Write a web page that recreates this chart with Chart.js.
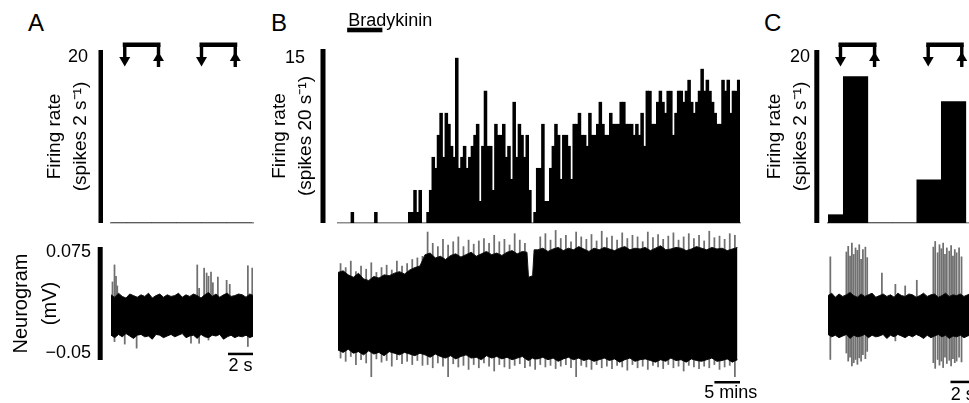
<!DOCTYPE html>
<html>
<head>
<meta charset="utf-8">
<script src="https://cdn.jsdelivr.net/npm/chart.js@4.4.1/dist/chart.umd.min.js"></script>
<style>
html, body { margin: 0; padding: 0; background: #fff; overflow: hidden; }
#fig { position: relative; width: 969px; height: 403px; overflow: hidden; font-family: "Liberation Sans", Arial, sans-serif; }
canvas { position: absolute; }
.panel { position: absolute; font-size: 24px; line-height: 24px; color: #000; }
</style>
</head>
<body>
<div id="fig">
  <div class="panel" style="left:28px;top:11px">A</div>
  <div class="panel" style="left:271px;top:11px">B</div>
  <div class="panel" style="left:764px;top:11px">C</div>
  <canvas id="aRate" width="260" height="230" style="left:0;top:0"></canvas>
  <canvas id="aNeuro" width="260" height="173" style="left:0;top:230px"></canvas>
  <canvas id="bRate" width="490" height="230" style="left:262px;top:0"></canvas>
  <canvas id="bNeuro" width="500" height="178" style="left:262px;top:225px"></canvas>
  <canvas id="cRate" width="230" height="230" style="left:757px;top:0"></canvas>
  <canvas id="cNeuro" width="230" height="178" style="left:757px;top:225px"></canvas>
</div>
<script>
// ---- panel A (seconds, spikes per 2 s bin, neurogram in µV) ----
const aBinCenters = [0.25, 2.25, 4.25, 6.25, 8.25, 10.25];
const aRate = [0, 0, 0, 0, 0, 0];
const aStimOn = [1.1, 7.24];
const aStimOff = [3.8, 9.94];
const aTime = [0,0.3,0.6,0.9,1.2,1.5,1.8,2.1,2.4,2.7,3.0,3.3,3.6,3.9,4.2,4.5,4.8,5.1,5.4,5.7,6.0,6.3,6.6,6.9,7.2,7.5,7.8,8.1,8.4,8.7,9.0,9.3,9.6,9.9,10.2,10.5,10.8,11.1,11.4];
const aCoreHi = [22,19,24,20,18,23,21,19,22,20,24,18,21,23,19,22,20,21,24,19,22,20,23,21,18,22,25,20,23,19,22,24,20,21,23,22,19,23,21];
const aCoreLo = [-28,-31,-27,-30,-26,-29,-32,-28,-27,-30,-29,-33,-27,-28,-31,-29,-27,-30,-28,-26,-31,-29,-28,-32,-27,-30,-31,-28,-29,-27,-33,-30,-28,-31,-29,-30,-28,-31,-29];
const aSpikeT = [0.12,0.28,0.4,0.5,1.1,2.05,6.4,6.9,7.05,7.45,7.65,7.8,8.0,8.15,8.55,9.25,9.5,10.95,11.3];
const aSpikeHi = [38,59,45,33,0,0,0,59,30,55,49,45,50,37,44,40,35,58,55];
const aSpikeLo = [0,-36,0,0,-39,-44,-38,0,-38,0,0,-34,0,0,0,0,0,-42,0];

// ---- panel B (histogram bins, neurogram in minutes / µV) ----
const bRate = [
  0,0,0,0,0,1,0,0,0,0, 0,0,0,0,1,0,0,0,0,0,
  0,0,0,0,0,0,0,1,1,3, 1,3,0,0,1,3,6,5,8,10,
  6,10,9,7,6,15,5,6,7,5, 6,7,8,9,2,7,12,7,7,3,
  9,8,8,9,6,7,4,11,6,9, 8,6,8,3,0,1,5,5,9,2,
  2,5,7,9,8,4,8,8,7,4, 9,9,10,8,8,7,10,8,8,9,
  11,9,8,8,10,9,9,9,11,11, 9,9,9,8,9,8,10,7,12,12,
  9,9,11,12,11,10,12,12,8,10, 12,12,11,12,13,11,10,11,12,14,
  12,13,12,11,10,9,9,13,12,13, 10,12,12,13
];
const bDrugFrom = 3.5, bDrugTo = 17;
const bCoreT = [0,1,2,3,4,5,6,7,8,9,10,11,12,13,14,15,16,17,18,19,20,21,22,23,24,25,26,27,28,29,30,31,32,33,34,35,36,
  36.9,37.2,38.0,38.3,
  39,40,41,42,43,44,45,46,47,48,49,50,51,52,53,54,55,56,57,58,59,60,61,62,63,64,65,66,67,68,69,70,71,72,73,74,75,76,77,78];
const bCoreHi = [44,46,41,38,43,36,34,39,37,41,40,43,45,42,47,50,52,
  66,68,62,64,60,65,67,63,66,69,64,67,70,66,68,65,69,71,67,70,
  69,38,40,72,
  72,74,70,73,75,71,74,72,76,73,70,74,72,75,73,71,74,76,72,74,73,75,71,74,77,72,73,75,74,71,73,76,74,72,75,73,74,71,73,75];
const bCoreLo = [-52,-55,-51,-56,-54,-58,-53,-57,-55,-59,-54,-56,-58,-55,-57,-59,-56,
  -58,-61,-57,-60,-62,-59,-63,-60,-58,-62,-61,-64,-59,-62,-60,-63,-61,-64,-62,-60,
  -64,-65,-62,-63,
  -63,-61,-64,-62,-66,-63,-61,-64,-62,-65,-63,-66,-64,-62,-65,-63,-67,-64,
  -62,-66,-64,-63,-65,-67,-64,-66,-62,-65,-64,-67,-63,-65,-66,-64,-62,-66,-65,-63,-67,-64];
const bSpikeHi = [55,50,58,45,52,48,56,44,50,53,47,58,52,55,60,62,64,
  94,80,76,85,78,82,88,76,84,79,83,86,80,90,82,85,78,92,84,80,
  36,38,
  88,92,84,96,86,90,82,94,88,85,91,83,95,87,89,84,93,86,90,88,82,94,87,91,85,89,93,84,88,92,86,90,83,95,87,89,85,92,90];
const bSpikeLo = [-62,-66,-60,-70,-64,-68,-85,-63,-67,-65,-72,-64,-69,-66,-70,-65,-71,
  -70,-74,-68,-72,-85,-69,-73,-71,-76,-70,-74,-68,-72,-78,-70,-73,-75,-71,-69,-74,
  -72,-76,-70,-73,-71,-75,-72,-70,-74,-85,-71,-73,-76,-70,-74,-72,-75,-71,-73,-77,
  -70,-74,-72,-76,-71,-73,-75,-70,-74,-72,-78,-71,-73,-75,-72,-74,-70,-76,-73,-71,-85];

// ---- panel C ----
const cBinCenters = [0.25, 2.25, 4.25, 6.25, 8.25, 10.25];
const cRate = [1, 17.6, 0, 0, 5.2, 14.6];
const cStimOn = [1.02, 8.18];
const cStimOff = [3.8, 10.92];
const cTime = [0,0.3,0.6,0.9,1.2,1.5,1.8,2.1,2.4,2.7,3.0,3.3,3.6,3.9,4.2,4.5,4.8,5.1,5.4,5.7,6.0,6.3,6.6,6.9,7.2,7.5,7.8,8.1,8.4,8.7,9.0,9.3,9.6,9.9,10.2,10.5,10.8,11.1,11.4,11.7];
const cCoreHi = [21,24,19,23,20,22,25,21,19,23,20,22,24,19,21,23,20,22,19,24,21,20,23,22,19,21,24,20,22,23,19,21,24,20,22,21,23,20,22,24];
const cCoreLo = [-27,-30,-28,-31,-29,-27,-32,-28,-30,-29,-27,-31,-28,-30,-29,-27,-32,-28,-30,-27,-29,-31,-28,-30,-27,-29,-32,-28,-31,-29,-27,-30,-28,-32,-29,-30,-28,-31,-29,-27];
const cSpikeT = [0.19,1.5,1.65,1.8,1.95,2.1,2.25,2.4,2.55,2.7,2.85,3.05,3.2,4.4,5.5,6.3,7.25,8.6,8.75,8.95,9.1,9.25,9.4,9.55,9.7,9.9,10.05,10.2,10.35,10.5,10.7,10.9];
const cSpikeHi = [69,75,82,70,86,72,80,77,84,66,78,81,68,49,35,33,40,81,88,74,84,79,86,72,80,76,83,70,78,74,80,69];
const cSpikeLo = [-58,-50,-60,-55,-66,-62,-58,-64,-56,-60,-52,-57,-48,0,-35,0,0,-62,-69,-58,-65,-60,-68,-55,-63,-59,-66,-57,-62,-60,-55,-61];

const FONT = '"Liberation Sans", Arial, sans-serif';
Chart.defaults.font.family = FONT;
Chart.defaults.color = '#000';
Chart.defaults.animation = false;
Chart.defaults.plugins.legend.display = false;
Chart.defaults.plugins.tooltip.enabled = false;

function tri(ctx, x1, y1, x2, y2, x3, y3) {
  ctx.beginPath();
  ctx.moveTo(x1, y1); ctx.lineTo(x2, y2); ctx.lineTo(x3, y3);
  ctx.closePath();
  ctx.fill();
}

// axis bars, stimulus brackets, scale bars, drug bar
const decor = {
  id: 'decor',
  afterDraw(chart, args, o) {
    const { ctx, chartArea: ca } = chart;
    const xs = chart.scales.x;
    const px = v => xs.getPixelForValue(v);
    ctx.save();
    ctx.fillStyle = '#000';
    if (o.bar) ctx.fillRect(ca.left - o.bar.gap - o.bar.w, ca.top, o.bar.w, ca.bottom - ca.top);
    if (o.stim) {
      o.stim.on.forEach((t, i) => {
        const a = px(t), b = px(o.stim.off[i]);
        ctx.fillRect(a - 2, 42.5, b - a + 4, 4.5);
        ctx.fillRect(a - 1.7, 45, 3.4, 13);
        tri(ctx, a - 5.5, 57, a + 5.5, 57, a, 66.5);
        ctx.fillRect(b - 1.7, 45, 3.4, 22);
        tri(ctx, b - 5.5, 61, b + 5.5, 61, b, 52);
      });
    }
    if (o.scale) {
      const a = px(xs.max - o.scale.len), b = px(xs.max);
      ctx.fillRect(a, o.scale.y, b - a, 2.5);
      ctx.font = '18px ' + FONT;
      ctx.textAlign = 'center';
      ctx.textBaseline = 'middle';
      ctx.fillText(o.scale.text, (a + b) / 2 + (o.scale.dx || 0), o.scale.ty);
    }
    if (o.drug) {
      const a = px(o.drug.from), b = px(o.drug.to);
      ctx.fillRect(a, 27.7, b - a, 4.6);
      ctx.font = '18px ' + FONT;
      ctx.textAlign = 'left';
      ctx.textBaseline = 'alphabetic';
      ctx.fillText(o.drug.text, a + 1, 26);
    }
    ctx.restore();
  }
};

function xScale(min, max, baseline) {
  return {
    type: 'linear', min, max, offset: false, display: baseline,
    grid: { display: false, drawTicks: false },
    ticks: { display: false },
    border: { display: baseline, color: '#8c8c8c', width: 1.5 },
    afterBuildTicks: s => { s.ticks = [{ value: min }]; },
    afterFit: s => { s.height = 0; s.paddingLeft = 0; s.paddingRight = 0; }
  };
}

function yScale(min, max, o) {
  if (!o) return { min, max, display: false };
  return {
    min, max,
    grid: { display: false, drawTicks: false },
    border: { display: false },
    ticks: { padding: o.pad, font: { size: 18 }, callback: o.fmt || (v => v) },
    afterBuildTicks: s => { s.ticks = o.ticks.map(v => ({ value: v })); },
    afterFit: s => { s.width = o.width; s.paddingTop = 0; s.paddingBottom = 0; },
    title: {
      display: true, text: o.title,
      font: { size: o.size || 19, lineHeight: o.lh || 1.35 },
      padding: { top: o.tpad, bottom: 0 }
    }
  };
}

function rateChart(id, centers, rate, o) {
  return new Chart(document.getElementById(id), {
    type: 'bar',
    data: {
      datasets: [{
        data: centers.map((c, i) => ({ x: c, y: rate[i] })),
        backgroundColor: '#000', borderWidth: 0,
        barPercentage: o.overlap || 1, categoryPercentage: 1, clip: 0
      }]
    },
    options: {
      responsive: false,
      events: [],
      layout: { padding: o.padding },
      scales: { x: xScale(0, o.xmax, true), y: yScale(0, o.ymax, o.y) },
      plugins: { decor: o.decor }
    },
    plugins: [decor]
  });
}

function neuroChart(id, t, hi, lo, st, sHi, sLo, o) {
  const pts = arr => t.map((x, i) => ({ x, y: arr[i] }));
  return new Chart(document.getElementById(id), {
    type: 'bar',
    data: {
      datasets: [
        { type: 'line', data: pts(hi), borderColor: '#111', backgroundColor: '#000', borderWidth: 1, pointRadius: 0, fill: '+1', order: 0 },
        { type: 'line', data: pts(lo), borderColor: '#111', borderWidth: 1, pointRadius: 0, fill: false, order: 0 },
        { data: st.map((x, i) => ({ x, y: [sLo[i], sHi[i]] })), backgroundColor: '#707070', barThickness: 1.1, order: 1 }
      ]
    },
    options: {
      responsive: false,
      events: [],
      layout: { padding: o.padding },
      scales: { x: xScale(0, o.xmax, false), y: yScale(o.ymin, o.ymax, o.y) },
      plugins: { decor: o.decor }
    },
    plugins: [decor]
  });
}

// A
rateChart('aRate', aBinCenters, aRate, {
  padding: { left: 0, right: 7, top: 50, bottom: 7 }, xmax: 11.36, ymax: 20.8,
  y: { ticks: [20], pad: 23, width: 111, tpad: 42.2, title: ['Firing rate', '(spikes 2 s⁻¹)'] },
  decor: { bar: { gap: 8, w: 4.5 }, stim: { on: aStimOn, off: aStimOff } }
});
neuroChart('aNeuro', aTime, aCoreHi, aCoreLo, aSpikeT, aSpikeHi, aSpikeLo, {
  padding: { left: 0, right: 7, top: 17, bottom: 43 }, xmax: 11.36, ymin: -58.7, ymax: 81.2,
  y: { ticks: [-50, 75], pad: 20, width: 111, tpad: 7.5, size: 20, lh: 1.42, title: ['Neurogram', '(mV)'],
       fmt: v => String(v / 1000).replace('-', '−') },
  decor: { bar: { gap: 8.3, w: 5 }, scale: { len: 2, y: 122.7, text: '2 s', ty: 136 } }
});

// B
rateChart('bRate', bRate.map((v, i) => i + 0.5), bRate, {
  padding: { left: 0, right: 12, top: 49, bottom: 7 }, xmax: bRate.length, ymax: 15.8, overlap: 1.35,
  y: { ticks: [15], pad: 33, width: 76, tpad: 5.2, title: ['Firing rate', '(spikes 20 s⁻¹)'] },
  decor: { bar: { gap: 12.5, w: 5 }, drug: { from: bDrugFrom, to: bDrugTo, text: 'Bradykinin' } }
});
neuroChart('bNeuro', bCoreT, bCoreHi, bCoreLo,
  bSpikeHi.map((v, i) => i + 0.5), bSpikeHi, bSpikeLo, {
  padding: { left: 76, right: 22, top: 3, bottom: 18 }, xmax: 78.5, ymin: -95.3, ymax: 99,
  decor: { scale: { len: 5, y: 156, text: '5 mins', ty: 168, dx: 3.5 } }
});

// C
rateChart('cRate', cBinCenters, cRate, {
  padding: { left: 0, right: 12, top: 50, bottom: 7 }, xmax: 12, ymax: 20.8,
  y: { ticks: [20], pad: 18, width: 71, tpad: 5.2, title: ['Firing rate', '(spikes 2 s⁻¹)'] },
  decor: { bar: { gap: 8.7, w: 5 }, stim: { on: cStimOn, off: cStimOff } }
});
neuroChart('cNeuro', cTime, cCoreHi, cCoreLo, cSpikeT, cSpikeHi, cSpikeLo, {
  padding: { left: 71, right: 12, top: 10, bottom: 28 }, xmax: 12, ymin: -77.2, ymax: 96,
  decor: { scale: { len: 2, y: 155.7, text: '2 s', ty: 170 } }
});
</script>
</body>
</html>
